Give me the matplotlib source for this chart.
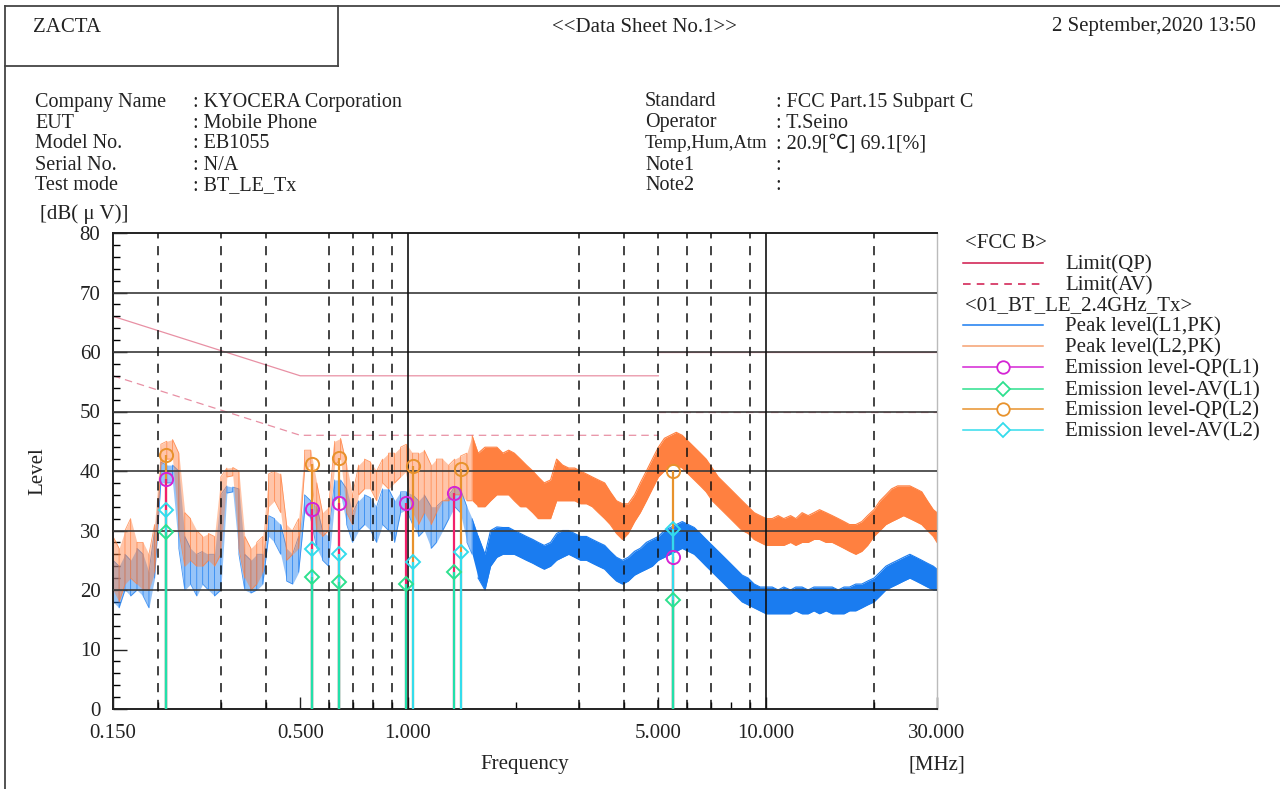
import matplotlib
matplotlib.use("Agg")
import matplotlib.pyplot as plt
import matplotlib.ticker as mticker
from matplotlib.lines import Line2D
import numpy as np

plt.rcParams["font.family"] = ["Liberation Serif", "Noto Sans CJK JP", "DejaVu Serif"]
plt.rcParams["font.size"] = 15

W, H = 1280, 789
_TXT = "#222222"
_BLUE = "#1a7cf0"
_ORANGE = "#ff8040"
_LIMIT = "#e890a4"
_LIMIT_LEG = "#d0164a"
_QP1 = "#d424d4"
_AV1 = "#2ee08e"
_QP2 = "#e8922c"
_AV2 = "#34dcec"

# ── sweep frequencies [MHz] and peak trace band (low / high) read from the sheet ──
freq = [
    0.150, 0.156, 0.162, 0.168, 0.175, 0.182, 0.189, 0.196, 0.204, 0.212,
    0.220, 0.229, 0.238, 0.247, 0.257, 0.267, 0.277, 0.288, 0.300, 0.312,
    0.324, 0.337, 0.350, 0.364, 0.378, 0.393, 0.408, 0.424, 0.441, 0.458,
    0.476, 0.495, 0.514, 0.535, 0.556, 0.577, 0.600, 0.624, 0.648, 0.674,
    0.700, 0.728, 0.756, 0.786, 0.817, 0.849, 0.882, 0.917, 0.953, 0.990,
    1.03, 1.07, 1.11, 1.16, 1.20, 1.25, 1.30, 1.35, 1.40, 1.46,
    1.51, 1.57, 1.64, 1.70, 1.77, 1.84, 1.91, 1.98, 2.06, 2.14,
    2.23, 2.31, 2.40, 2.50, 2.60, 2.70, 2.81, 2.92, 3.03, 3.15,
    3.27, 3.40, 3.54, 3.67, 3.82, 3.97, 4.12, 4.29, 4.45, 4.63,
    4.81, 5.00, 5.20, 5.40, 5.61, 5.83, 6.06, 6.30, 6.55, 6.80,
    7.07, 7.35, 7.64, 7.94, 8.25, 8.57, 8.91, 9.26, 9.62, 10.0,
    10.4, 10.8, 11.2, 11.7, 12.1, 12.6, 13.1, 13.6, 14.1, 14.7,
    15.3, 15.9, 16.5, 17.1, 17.8, 18.5, 19.2, 20.0, 20.8, 21.6,
    22.4, 23.3, 24.2, 25.2, 26.2, 27.2, 28.2, 29.3, 30.0,
]

peak_l1_lo = [
    18, 17, 20, 19, 20, 19, 17, 22, 38, 38,
    38, 27, 20, 21, 19, 21, 20, 19, 20, 36.3,
    36.5, 26, 20, 19.5, 20, 21, 29, 28, 26, 21.5,
    21, 23, 33, 32, 27, 25, 24, 35, 36, 31,
    28, 30, 31, 30, 28, 31, 30, 28, 33, 33.5,
    31, 29, 30, 27, 28, 30, 32, 34, 33, 28,
    26, 22, 20, 24, 25.5, 26, 26, 26, 25.5, 25,
    24.5, 24, 23.5, 24, 25, 25.5, 26, 25.5, 25, 25,
    24.5, 24, 23.5, 22.5, 21.5, 21, 21.5, 22.5, 23, 23.5,
    24, 25, 25.5, 26, 26.5, 27, 26.5, 26, 25, 24,
    23, 22, 21, 20, 19, 18, 17.5, 17, 16.5, 16,
    16, 16, 16, 16, 16.5, 16, 16, 16.5, 16, 16.5,
    16, 16, 16, 16.5, 16.5, 17, 17.5, 18, 19, 20,
    20.5, 21, 21.5, 22, 21.5, 21, 20.5, 20, 20,
]
peak_l1_hi = [
    25, 24, 26, 25, 27, 26, 23, 30, 41.5, 41,
    41, 40, 29, 27, 26, 26.5, 26, 26, 36, 37.5,
    37.3, 37, 26, 25, 26, 26, 32.5, 32, 31, 27,
    26, 29, 36, 35, 34, 30, 29, 38.5, 38.5, 37,
    33, 35, 36, 35.5, 34, 37, 37, 35, 36.5, 36.5,
    36, 35, 36, 34, 34, 35, 36, 37.3, 37, 34,
    32, 29, 26, 30, 30.6, 30.5, 30.5, 30, 29.5, 29,
    28.5, 28, 27.5, 28, 29.5, 30, 30, 29.5, 29, 29,
    28.5, 28, 27.5, 26.5, 25.5, 25, 25.5, 26.5, 27, 28,
    28.5, 29, 30, 30.5, 31, 31.5, 31, 30.5, 29.5, 28.5,
    27.5, 26.5, 25.5, 24.5, 23.5, 22.5, 22, 21, 20.5, 20.5,
    20.5, 20, 20.5, 20, 20.5, 20.5, 20, 20.5, 20.5, 20.5,
    20.5, 20, 20.5, 20.5, 21, 21, 21.5, 22, 23, 24,
    24.5, 25, 25.5, 26, 25.5, 25, 24.5, 24, 23.5,
]
peak_l2_lo = [
    20, 18, 21, 22, 21, 20, 20, 23, 41, 42,
    42, 30, 24, 25, 24, 24, 25, 24, 26, 39,
    39.2, 27, 22, 20, 21, 23, 34, 35, 33, 25,
    26, 27, 40, 41, 30, 29, 30, 41, 42, 33,
    31, 36, 37, 37, 35, 38, 37, 38, 39, 40,
    33, 31, 33, 31, 33, 35, 35, 36, 36, 35,
    35, 34, 34, 35, 36, 36, 36, 35, 34, 34,
    33, 32, 32, 32, 35, 35, 35, 35, 34.5, 34.5,
    34, 33, 32, 31, 29.5, 28.5, 29.5, 31.5, 33, 35,
    37, 39, 40, 41, 41, 40.5, 39.5, 38.5, 37.5, 36.5,
    35, 34, 33, 32, 31, 30, 29.5, 28.5, 28, 27.5,
    27.5, 27.5, 27.5, 28, 27.5, 28, 28, 28.5, 28.5, 28,
    28, 27.5, 27, 26.5, 26, 26.5, 27.5, 29, 30, 31,
    31.5, 32, 32.5, 32, 31.5, 31, 30, 29, 28,
]
peak_l2_hi = [
    29, 27, 30, 32, 28, 28, 26, 31, 44.5, 45,
    45.3, 43, 33, 32, 30, 29, 29.5, 29, 39, 40.5,
    40.6, 40, 29, 27, 28, 29, 39.5, 40, 39.5, 31,
    30, 32, 43.5, 43.5, 38, 33, 34, 45, 45.5, 41,
    36, 41, 42, 41.5, 40, 42, 43, 43, 44, 44.5,
    43, 43, 43.5, 41, 42, 42, 41, 42, 42.5, 43,
    46, 43, 44, 44, 44, 43, 43.5, 43, 42, 41,
    40, 39, 38, 38.5, 42, 41, 40.5, 40.5, 40, 39.5,
    39, 38.5, 38, 36.5, 35, 34.5, 34.5, 36, 38, 40,
    42, 44, 45.5, 46, 46.5, 46, 45, 44, 43, 42,
    40.5, 39, 38, 37, 36, 35, 34, 33, 32.5, 32,
    32, 32.5, 32, 32.5, 32, 33, 32.5, 33, 33.5, 33,
    32.5, 32, 31.5, 31, 31, 31.5, 32.5, 33.5, 35, 36,
    37, 37.5, 37.5, 37.5, 37, 36.5, 35, 33.5, 33,
]

# ── FCC class B limits ──
limit_qp_freq = [0.15, 0.5, 5.0]
limit_qp = [66, 56, 56]
limit_qp_hi_freq = [5.0, 30.0]
limit_qp_hi = [60, 60]
limit_av_freq = [0.15, 0.5, 5.0]
limit_av = [56, 46, 46]
limit_av_hi_freq = [5.0, 30.0]
limit_av_hi = [50, 50]

# ── final measurements ──
l1_freq = [0.211, 0.541, 0.643, 0.987, 1.345, 5.51]
l1_qp = [38.6, 33.6, 34.7, 34.6, 36.3, 25.6]
l1_av = [29.7, 22.2, 21.4, 21.0, 23.1, 18.3]
l2_freq = [0.211, 0.541, 0.643, 1.035, 1.407, 5.51]
l2_qp = [42.7, 41.1, 42.2, 40.8, 40.4, 40.0]
l2_av = [33.4, 26.9, 26.0, 24.7, 26.4, 30.2]

x_major = [0.15, 0.5, 1, 5, 10, 30]
x_major_labels = ["0.150", "0.500", "1.000", "5.000", "10.000", "30.000"]
x_minor = [0.2, 0.3, 0.4, 0.6, 0.7, 0.8, 0.9, 2, 3, 4, 6, 7, 8, 9, 20]
x_grid_dashed = [0.2, 0.3, 0.4, 0.6, 0.7, 0.8, 0.9, 3, 4, 5, 6, 7, 9, 20]
x_grid_solid = [1, 10]
y_grid = [20, 30, 40, 50, 60, 70]

info_left_keys = ["Company Name", "EUT", "Model No.", "Serial No.", "Test mode"]
info_left_vals = ["KYOCERA Corporation", "Mobile Phone", "EB1055", "N/A", "BT_LE_Tx"]
info_right_keys = ["Standard", "Operator", "Temp,Hum,Atm", "Note1", "Note2"]
info_right_vals = ["FCC Part.15 Subpart C", "T.Seino", "20.9[℃] 69.1[%]", "", ""]


def fx(px):
    return px / W


def fy(py):
    return 1 - py / H


def label(px, py, s, ha="left", size=15):
    # py is the visual centre of the capitals; draw on the baseline below it
    fig.text(fx(px), fy(py + 6.5), s, ha=ha, va="baseline", color=_TXT, fontsize=size)


fig = plt.figure(figsize=(W / 100, H / 100), dpi=100)
ax = fig.add_axes([fx(113), fy(709), fx(937) - fx(113), fy(233) - fy(709)])

f = np.array(freq)


def draw_trace(lo, hi, color):
    lo = np.array(lo, float)
    hi = np.array(hi, float)
    left = f <= 1.51
    right = f >= 1.51
    ax.fill_between(f, lo, hi, where=left, color=color, alpha=0.45, lw=0, zorder=2)
    ax.fill_between(f, lo, hi, where=right, color=color, alpha=1.0, lw=0, zorder=2)
    # snake through the readings of the spiky low band: vertical span at each sweep point
    n = int(left.sum()) + 1
    ys = np.column_stack([lo[:n], hi[:n]])
    ys[1::2] = ys[1::2, ::-1]
    ax.plot(np.repeat(f[:n], 2), ys.ravel(), color=color, lw=0.6, alpha=0.8, zorder=2)
    # edges of the dense band
    ax.plot(f[n - 1:], hi[n - 1:], color=color, lw=0.8, zorder=2)
    ax.plot(f[n - 1:], lo[n - 1:], color=color, lw=0.8, zorder=2)


draw_trace(peak_l1_lo, peak_l1_hi, _BLUE)
draw_trace(peak_l2_lo, peak_l2_hi, _ORANGE)

# limits
ax.plot(limit_qp_freq, limit_qp, color=_LIMIT, lw=0.9, zorder=1)
ax.plot(limit_qp_hi_freq, limit_qp_hi, color=_LIMIT, lw=0.9, zorder=1)
ax.plot(limit_av_freq, limit_av, color=_LIMIT, lw=0.9, ls=(0, (6, 4)), zorder=1)
ax.plot(limit_av_hi_freq, limit_av_hi, color=_LIMIT, lw=0.9, ls=(0, (6, 4)), zorder=1)

# grid
for y in y_grid:
    ax.axhline(y, color="#3a3a3a", lw=1.2, zorder=3)
for x in x_grid_solid:
    ax.axvline(x, color="#111111", lw=1.2, zorder=3)
for x in x_grid_dashed:
    ax.axvline(x, color="#111111", lw=1.1, ls=(0, (6, 5)), zorder=3)

# stems and markers
series = [
    (l2_freq, l2_qp, _QP2, _QP2, "o"),
    (l1_freq, l1_qp, _QP1, "#f2206a", "o"),
    (l2_freq, l2_av, _AV2, _AV2, "D"),
    (l1_freq, l1_av, _AV1, "#22e0aa", "D"),
]
for fr, lv, mcol, scol, _ in series:
    ax.vlines(fr, 0, lv, color=scol, lw=1.6, zorder=4)
for fr, lv, mcol, scol, mk in series:
    ax.plot(fr, lv, ls="none", marker=mk, ms=9.5 if mk == "o" else 7.5,
            mfc="none", mec=mcol, mew=1.4, zorder=5)

ax.set_xscale("log")
ax.set_xlim(0.15, 30)
ax.set_ylim(0, 80)
ax.set_xticks(x_major)
ax.set_xticklabels(x_major_labels)
ax.xaxis.set_minor_locator(mticker.FixedLocator(x_minor))
ax.xaxis.set_minor_formatter(mticker.NullFormatter())
ax.set_yticks(range(0, 81, 10))
ax.yaxis.set_minor_locator(mticker.MultipleLocator(2))
ax.tick_params(axis="x", which="major", direction="in", length=9, width=1,
               pad=11, labelsize=15, colors=_TXT)
ax.tick_params(axis="x", which="minor", direction="in", length=5, width=1)
ax.tick_params(axis="y", which="major", direction="in", length=10, width=1,
               pad=9, labelsize=15, colors=_TXT)
ax.tick_params(axis="y", which="minor", direction="in", length=5, width=1)
for s in ("left", "bottom", "top"):
    ax.spines[s].set_color("#222222")
    ax.spines[s].set_linewidth(1.4)
ax.spines["right"].set_color("#bbbbbb")
ax.spines["right"].set_linewidth(1.0)

# axis titles
label(40, 212, "[dB( μ V)]")
fig.text(fx(38), fy(471), "Level", ha="center", va="center", rotation=90, color=_TXT)
label(525, 763, "Frequency", ha="center")
label(937, 763, "[MHz]", ha="center")

# header frame
frame = dict(color="#444444", lw=1.3)
fig.add_artist(Line2D([fx(5), fx(1280)], [fy(6), fy(6)], **frame))
fig.add_artist(Line2D([fx(5), fx(5)], [fy(6), fy(789)], **frame))
fig.add_artist(Line2D([fx(338), fx(338)], [fy(6), fy(66)], **frame))
fig.add_artist(Line2D([fx(5), fx(338)], [fy(66), fy(66)], **frame))

label(33, 25, "ZACTA")
label(645, 25, "<<Data Sheet No.1>>", ha="center")
label(1256, 25, "2 September,2020 13:50", ha="right")

for i, (k, v) in enumerate(zip(info_left_keys, info_left_vals)):
    label(35, 100 + 21 * i, k, size=14.5)
    label(193, 100 + 21 * i, ": " + v, size=14.5)
for i, (k, v) in enumerate(zip(info_right_keys, info_right_vals)):
    label(645, 100 + 21 * i, k, size=14.5 if len(k) < 12 else 13.5)
    label(776, 100 + 21 * i, ": " + v, size=14.5)

# legend (drawn by hand, outside the axes)
legend_rows = [
    (242, "<FCC B>", None, None, None),
    (263, "Limit(QP)", _LIMIT_LEG, "-", None),
    (284, "Limit(AV)", _LIMIT_LEG, (0, (5, 4)), None),
    (304, "<01_BT_LE_2.4GHz_Tx>", None, None, None),
    (325, "Peak level(L1,PK)", _BLUE, "-", None),
    (346, "Peak level(L2,PK)", "#f5a070", "-", None),
    (367, "Emission level-QP(L1)", _QP1, "-", "o"),
    (389, "Emission level-AV(L1)", _AV1, "-", "D"),
    (409, "Emission level-QP(L2)", _QP2, "-", "o"),
    (430, "Emission level-AV(L2)", _AV2, "-", "D"),
]
for y, text, col, ls, mk in legend_rows:
    if col is None:
        label(965, y, text)
        continue
    fig.add_artist(Line2D([fx(963), fx(1043)], [fy(y), fy(y)], color=col, ls=ls, lw=1.1))
    if mk:
        fig.add_artist(Line2D([fx(1003)], [fy(y)], ls="none", marker=mk,
                              ms=9 if mk == "o" else 7, mec=col, mfc="white", mew=1.3))
    label(1065, y, text)

fig.savefig("out.png", dpi=100, facecolor="white")
